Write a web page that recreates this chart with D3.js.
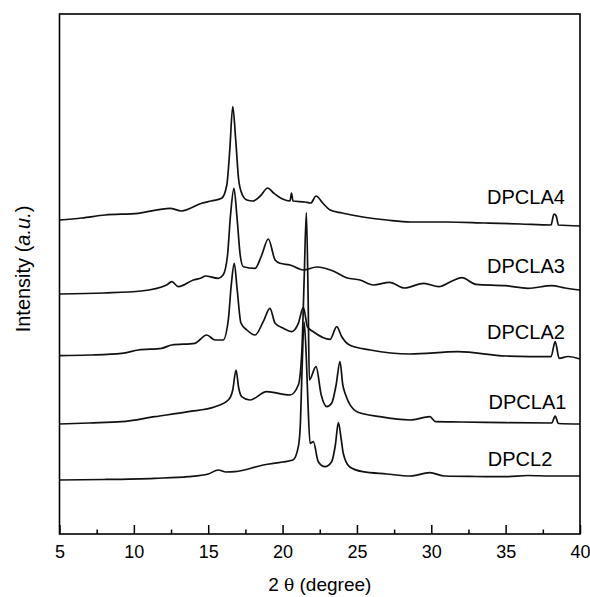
<!DOCTYPE html>
<html>
<head>
<meta charset="utf-8">
<script src="https://cdn.jsdelivr.net/npm/d3@7"></script>
<style>
  html, body { margin: 0; padding: 0; background: #fff; }
  svg { display: block; font-family: "Liberation Sans", Arial, sans-serif; }
</style>
</head>
<body>
<svg id="chart" width="590" height="597"></svg>
<script>
// XRD patterns, [2theta, intensity (a.u.)]
const dpcla4 = [[5,314],[6.5,316],[8.06,319],[10.3,320.7],[12.43,325.7],[13.2,323],[14.56,330.7],[15.2,333],[15.9,335.7],
  [16.25,349],[16.45,384],[16.65,427.5],[16.85,394],[17.05,354],[17.3,339],[17.6,334],[18,333],[18.5,338],
  [19,346],[19.4,341],[20,335],[20.5,333],[20.6,341],[20.7,333],[21.5,332],[21.9,331],[22.25,338],[22.7,331],
  [23.2,324],[24,321],[25.4,317],[27,314],[28.6,312],[31,312],[33.6,311],[36,310],[38.05,309],[38.25,320],
  [38.4,318],[38.55,309],[40,308]];

const dpcla3 = [[5,240],[8,241],[10.5,243],[12.2,249],[12.55,252.3],[13,247.3],[14,254],[14.56,256.3],[14.8,258],
  [15.67,255.7],[16,259],[16.3,279],[16.5,319],[16.73,345.7],[16.95,314],[17.15,279],[17.36,267.3],[18.15,265.7],
  [18.6,279],[19.04,295],[19.5,274],[19.83,270.7],[20.5,269],[21.4,264],[22.3,267],[23.4,263],[24.3,256.3],
  [25.2,254],[26.1,249],[27.2,251.7],[28.2,246],[29.5,250.7],[30.5,247.3],[31.4,253],[32.05,256.3],[33,249.7],
  [35,248.3],[36.5,245.7],[38.1,248.3],[39,246],[40,244]];

const dpcla2 = [[5,178.3],[7,179],[9.18,180.7],[10.3,184],[11.87,185.7],[12.55,189],[14.1,190.7],[14.9,199],
  [15.46,194],[16,194],[16.35,214],[16.55,249],[16.75,270.7],[16.95,244],[17.2,211],[17.6,204],[18.15,199],
  [18.7,212.3],[19.15,225.7],[19.5,210.7],[20.05,205.7],[20.6,202.3],[21.06,210.7],[21.4,226.7],[21.67,207.3],
  [22.07,202.3],[23.2,194.7],[23.64,207.3],[23.98,197.3],[24.5,189],[25.9,184],[28.57,180],[31.8,182.3],
  [35,178],[38.05,177.3],[38.33,192.3],[38.6,175.7],[39.2,177.5],[40,175]];

const dpcla1 = [[5,110],[7,111],[9.18,112.3],[11.4,117.3],[13.66,122.3],[15.46,127.3],[16.35,134],[16.65,144],
  [16.87,164],[17.05,146],[17.25,137.3],[17.8,134],[18.93,142.3],[20.5,139],[21.06,149],[21.3,184],[21.45,254],
  [21.6,321.3],[21.72,234],[21.8,154],[22.25,167.3],[22.6,139],[22.97,127.3],[23.3,130.7],[23.6,149],
  [23.86,172.3],[24.05,149],[24.2,140.7],[25,122.3],[26.55,117.3],[28.57,114],[29.9,117.3],[30.3,112.3],
  [32,112],[35,111.3],[38.1,111],[38.33,118],[38.55,110.5],[40,110]];

const dpcl2 = [[5,54],[8,54.5],[11.4,55.7],[13.66,57.3],[15,60],[15.68,64],[16.2,62],[16.8,62.3],[18.7,69],
  [20,72],[20.7,74],[21.06,87.3],[21.2,111],[21.3,160],[21.45,212],[21.6,175],[21.7,134],[21.85,90.7],
  [22.07,92.3],[22.4,72.3],[22.85,67.3],[23.3,72.3],[23.55,89],[23.75,111.3],[23.95,94],[24.08,80.7],
  [24.5,67.3],[25.4,62.3],[27,60],[28.57,58],[29.9,61.3],[30.9,58],[33,57.5],[35,57.3],[36.5,58.5],[38,58],[40,58]];

const seriesNames = ["DPCLA4", "DPCLA3", "DPCLA2", "DPCLA1", "DPCL2"];
const seriesData = [dpcla4, dpcla3, dpcla2, dpcla1, dpcl2];
// label anchors in data units [2theta, intensity]
const labelAnchors = [[33.75, 330], [33.75, 261], [33.75, 195], [33.85, 125], [33.8, 68]];

const majorTicks = [5, 10, 15, 20, 25, 30, 35, 40];
const minorTicks = [7.5, 12.5, 17.5, 22.5, 27.5, 32.5, 37.5];

const svg = d3.select("#chart");
const plot = { left: 59.5, right: 580, top: 14, bottom: 534 };

const x = d3.scaleLinear().domain([5, 40]).range([plot.left, plot.right]);
const y = d3.scaleLinear().domain([0, 520]).range([plot.bottom, plot.top]);

const line = d3.line()
  .curve(d3.curveMonotoneX)
  .x(d => x(d[0]))
  .y(d => y(d[1]));

svg.append("g")
  .attr("fill", "none")
  .attr("stroke", "#111")
  .attr("stroke-width", 1.7)
  .attr("stroke-linejoin", "round")
  .selectAll("path")
  .data(seriesData)
  .join("path")
  .attr("d", line);

// ticks point into the plot
svg.append("g")
  .attr("transform", `translate(0,${plot.bottom})`)
  .call(d3.axisBottom(x).tickValues(majorTicks).tickSize(-9).tickPadding(11).tickFormat(d3.format("d")))
  .call(g => g.select(".domain").remove())
  .call(g => g.selectAll("line").attr("stroke", "#000").attr("stroke-width", 1.5))
  .call(g => g.selectAll("text").attr("fill", "#000").style("font-size", "18px")
    .style("font-family", "'Liberation Sans', Arial, sans-serif"));

svg.append("g")
  .attr("transform", `translate(0,${plot.bottom})`)
  .call(d3.axisBottom(x).tickValues(minorTicks).tickSize(-4.5).tickFormat(""))
  .call(g => g.select(".domain").remove())
  .call(g => g.selectAll("line").attr("stroke", "#000").attr("stroke-width", 1.5));

svg.append("rect")
  .attr("x", plot.left)
  .attr("y", plot.top)
  .attr("width", plot.right - plot.left)
  .attr("height", plot.bottom - plot.top)
  .attr("fill", "none")
  .attr("stroke", "#000")
  .attr("stroke-width", 1.6);

svg.append("g")
  .selectAll("text")
  .data(seriesNames)
  .join("text")
  .attr("x", (d, i) => x(labelAnchors[i][0]))
  .attr("y", (d, i) => y(labelAnchors[i][1]))
  .attr("font-size", 20)
  .attr("fill", "#000")
  .text(d => d);

const xt = svg.append("text")
  .attr("x", (plot.left + plot.right) / 2)
  .attr("y", 591)
  .attr("text-anchor", "middle")
  .attr("font-size", 19)
  .attr("fill", "#000");
xt.append("tspan").text("2 ");
xt.append("tspan").attr("font-family", "'DejaVu Serif', serif").attr("font-size", 17).text("θ");
xt.append("tspan").text(" (degree)");

const yt = svg.append("text")
  .attr("transform", "translate(30,269) rotate(-90)")
  .attr("text-anchor", "middle")
  .attr("font-size", 20)
  .attr("fill", "#000");
yt.append("tspan").text("Intensity (");
yt.append("tspan").attr("font-style", "italic").text("a.u.");
yt.append("tspan").text(")");
</script>
</body>
</html>
